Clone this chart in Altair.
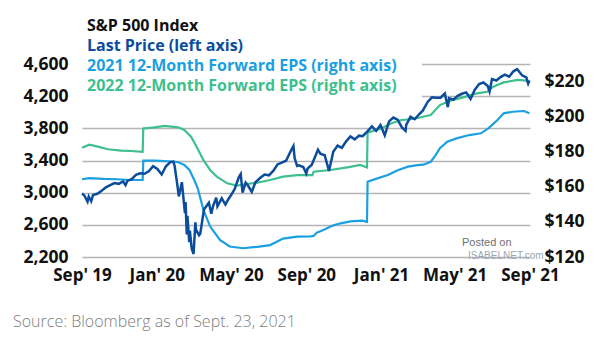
import altair as alt
import pandas as pd

# ---------------- data ----------------
sp_dates = [
    "2019-09-23", "2019-09-27", "2019-10-02", "2019-10-04", "2019-10-08", "2019-10-11", "2019-10-18",
    "2019-10-25", "2019-11-01", "2019-11-08", "2019-11-15", "2019-11-22", "2019-11-29", "2019-12-03",
    "2019-12-06", "2019-12-13", "2019-12-20", "2019-12-27", "2020-01-03", "2020-01-10", "2020-01-17",
    "2020-01-24", "2020-01-31", "2020-02-07", "2020-02-14", "2020-02-19", "2020-02-21", "2020-02-25",
    "2020-02-28", "2020-03-04", "2020-03-06", "2020-03-09", "2020-03-10", "2020-03-12", "2020-03-13",
    "2020-03-16", "2020-03-17", "2020-03-20", "2020-03-23", "2020-03-26", "2020-03-27", "2020-04-01",
    "2020-04-03", "2020-04-09", "2020-04-17", "2020-04-21", "2020-04-24", "2020-04-29", "2020-05-01",
    "2020-05-08", "2020-05-14", "2020-05-19", "2020-05-22", "2020-05-29", "2020-06-05", "2020-06-08",
    "2020-06-11", "2020-06-16", "2020-06-19", "2020-06-26", "2020-07-02", "2020-07-10", "2020-07-17",
    "2020-07-24", "2020-07-31", "2020-08-07", "2020-08-14", "2020-08-21", "2020-08-28", "2020-09-02",
    "2020-09-04", "2020-09-08", "2020-09-11", "2020-09-18", "2020-09-23", "2020-09-25", "2020-10-02",
    "2020-10-09", "2020-10-12", "2020-10-16", "2020-10-23", "2020-10-30", "2020-11-06", "2020-11-13",
    "2020-11-20", "2020-11-27", "2020-12-04", "2020-12-11", "2020-12-18", "2020-12-24", "2020-12-31",
    "2021-01-08", "2021-01-15", "2021-01-22", "2021-01-29", "2021-02-05", "2021-02-12", "2021-02-19",
    "2021-02-26", "2021-03-04", "2021-03-05", "2021-03-12", "2021-03-19", "2021-03-26", "2021-04-01",
    "2021-04-09", "2021-04-16", "2021-04-23", "2021-04-30", "2021-05-07", "2021-05-12", "2021-05-14",
    "2021-05-21", "2021-05-28", "2021-06-04", "2021-06-11", "2021-06-18", "2021-06-25", "2021-07-02",
    "2021-07-09", "2021-07-16", "2021-07-19", "2021-07-23", "2021-07-30", "2021-08-06", "2021-08-13",
    "2021-08-20", "2021-08-27", "2021-09-02", "2021-09-10", "2021-09-17", "2021-09-20", "2021-09-22",
]
sp_values = [
    2992, 2962, 2887, 2952, 2893, 2970, 2986,
    3023, 3067, 3093, 3120, 3110, 3141, 3093,
    3146, 3169, 3221, 3240, 3235, 3265, 3330,
    3295, 3226, 3328, 3380, 3386, 3338, 3128,
    2954, 3130, 2972, 2747, 2882, 2481, 2711,
    2386, 2529, 2305, 2237, 2630, 2541, 2471,
    2489, 2790, 2875, 2737, 2837, 2939, 2831,
    2930, 2852, 2922, 2955, 3044, 3194, 3232,
    3002, 3125, 3098, 3009, 3130, 3185, 3225,
    3216, 3271, 3351, 3373, 3397, 3508, 3580,
    3427, 3332, 3341, 3319, 3237, 3298, 3348,
    3477, 3534, 3484, 3465, 3270, 3510, 3585,
    3558, 3638, 3699, 3663, 3709, 3703, 3756,
    3825, 3768, 3841, 3714, 3887, 3934, 3907,
    3811, 3768, 3842, 3943, 3913, 3975, 4020,
    4129, 4185, 4180, 4181, 4233, 4063, 4174,
    4156, 4204, 4230, 4247, 4166, 4281, 4352,
    4370, 4327, 4258, 4412, 4395, 4437, 4468,
    4442, 4509, 4537, 4459, 4433, 4358, 4396,
]

eps21_dates = [
    "2019-09-23", "2019-10-05", "2019-10-28", "2019-11-20", "2019-12-10", "2019-12-31",
    "2020-01-01", "2020-01-20", "2020-02-05", "2020-02-22", "2020-02-27", "2020-03-08",
    "2020-03-16", "2020-03-24", "2020-03-30", "2020-04-08", "2020-04-19", "2020-05-05",
    "2020-05-21", "2020-06-12", "2020-07-05", "2020-07-26", "2020-08-05", "2020-08-16",
    "2020-09-08", "2020-09-30", "2020-10-05", "2020-10-10", "2020-10-21", "2020-11-05",
    "2020-11-18", "2020-12-04", "2020-12-23", "2020-12-31", "2021-01-01", "2021-01-17",
    "2021-02-03", "2021-02-20", "2021-03-08", "2021-03-23", "2021-04-02", "2021-04-14",
    "2021-04-22", "2021-04-29", "2021-05-11", "2021-05-26", "2021-06-16", "2021-07-05",
    "2021-07-17", "2021-08-01", "2021-08-11", "2021-08-26", "2021-09-13", "2021-09-22",
]
eps21_values = [
    164.3, 164.9, 164.5, 164.3, 163.9, 163.9,
    174.9, 174.9, 174.7, 174.3, 174.0, 172.5,
    169.8, 164.0, 159.0, 147.0, 137.5, 129.7,
    126.0, 125.0, 125.8, 126.8, 128.5, 130.5,
    131.6, 131.8, 132.0, 133.9, 135.4, 137.9,
    139.2, 140.3, 140.7, 140.0, 162.9, 164.8,
    166.7, 169.6, 171.5, 172.4, 172.6, 174.3,
    178.1, 182.0, 185.7, 187.6, 189.5, 190.5,
    193.3, 198.1, 201.9, 202.8, 203.2, 201.9,
]

eps22_dates = [
    "2019-09-23", "2019-10-05", "2019-10-19", "2019-11-04", "2019-11-26", "2019-12-12",
    "2019-12-31", "2020-01-01", "2020-01-19", "2020-02-05", "2020-02-27", "2020-03-08",
    "2020-03-19", "2020-03-28", "2020-04-08", "2020-04-19", "2020-04-30", "2020-05-17",
    "2020-06-02", "2020-06-18", "2020-07-05", "2020-07-26", "2020-08-16", "2020-09-08",
    "2020-10-03", "2020-10-05", "2020-11-01", "2020-11-29", "2020-12-20", "2020-12-31",
    "2021-01-01", "2021-01-23", "2021-02-08", "2021-02-25", "2021-03-12", "2021-03-27",
    "2021-04-14", "2021-04-29", "2021-05-16", "2021-06-06", "2021-06-29", "2021-07-15",
    "2021-07-25", "2021-08-11", "2021-09-03", "2021-09-17", "2021-09-22",
]
eps22_values = [
    182.3, 184.0, 182.9, 181.4, 180.6, 180.4,
    180.0, 193.3, 193.9, 194.7, 193.9, 192.4,
    188.6, 182.9, 175.3, 169.6, 165.8, 162.0,
    160.7, 161.6, 162.3, 163.9, 165.8, 166.7,
    166.7, 168.6, 169.6, 171.1, 172.5, 171.0,
    190.9, 193.3, 196.1, 198.1, 198.5, 199.5,
    200.9, 206.6, 209.1, 211.0, 213.3, 214.2,
    217.1, 219.5, 220.9, 220.5, 219.0,
]

left_ticks = [2200, 2600, 3000, 3400, 3800, 4200, 4600]
right_ticks = [120, 140, 160, 180, 200, 220]
x_tick_dates = ["2019-09-23", "2020-01-23", "2020-05-23", "2020-09-23",
                "2021-01-23", "2021-05-23", "2021-09-23"]
x_domain_dates = ["2019-09-23", "2021-09-23"]

series_names = ["2021 12-Month Forward EPS", "2022 12-Month Forward EPS"]

# ---------------- styling ----------------
FONT = "Open Sans"
C_SP = "#0b4d9c"
C_21 = "#1a9fe0"
C_22 = "#3dbf8e"


def ms(d):
    return int(pd.Timestamp(d, tz="UTC").value // 10**6)


sp_df = pd.DataFrame({"date": sp_dates, "value": sp_values})
eps_df = pd.concat([
    pd.DataFrame({"date": eps21_dates, "value": eps21_values, "series": series_names[0]}),
    pd.DataFrame({"date": eps22_dates, "value": eps22_values, "series": series_names[1]}),
])

x_enc = alt.X(
    "date:T",
    scale=alt.Scale(type="utc", domain=[ms(d) for d in x_domain_dates]),
    axis=alt.Axis(
        values=[ms(d) for d in x_tick_dates],
        labelExpr="utcFormat(datum.value, \"%b' %y\")",
        title=None, grid=False, domain=False, ticks=False,
        labelFont=FONT, labelFontSize=17, labelFontWeight="bold", labelColor="#111111",
        labelPadding=10, labelFlush=False, labelOverlap=False, labelBound=False,
    ),
)

one = pd.DataFrame({"a": [0]})

bg = alt.Chart(one).mark_rect(color="white").encode(
    x=alt.value(0), x2=alt.value(340), y=alt.value(-8), y2=alt.value(38)
)

eps = alt.Chart(eps_df).mark_line(strokeWidth=2.2).encode(
    x=x_enc,
    y=alt.Y(
        "value:Q",
        scale=alt.Scale(domain=[120, 230], nice=False, zero=False),
        axis=alt.Axis(
            orient="right", values=right_ticks, labelExpr="'$' + datum.value",
            title=None, grid=False, domain=False, ticks=False,
            labelFont=FONT, labelFontSize=17.5, labelFontWeight="bold", labelColor="#111111",
            labelPadding=14,
        ),
    ),
    color=alt.Color("series:N", scale=alt.Scale(domain=series_names, range=[C_21, C_22]), legend=None),
)

sp = alt.Chart(sp_df).mark_line(strokeWidth=2.5, color=C_SP).encode(
    x=x_enc,
    y=alt.Y(
        "value:Q",
        scale=alt.Scale(domain=[2200, 4600], nice=False, zero=False),
        axis=alt.Axis(
            orient="left", values=left_ticks, format=",.0f",
            title=None, grid=True, gridColor="#b4b4b4", gridWidth=1.5,
            domain=False, ticks=False,
            labelFont=FONT, labelFontSize=17.5, labelFontWeight="bold", labelColor="#111111",
            labelPadding=14,
        ),
    ),
)


def label(text, x, y, color, size=16, weight=700, font=FONT, align="left"):
    return alt.Chart(pd.DataFrame({"t": [text]})).mark_text(
        align=align, baseline="middle", font=font, fontSize=size, fontWeight=weight, color=color
    ).encode(x=alt.value(x), y=alt.value(y), text="t:N")


texts = [
    label("S&P 500 Index", 5, -38, "#111111"),
    label("Last Price (left axis)", 5, -18, C_SP),
    label("2021 12-Month Forward EPS (right axis)", 5, 2, C_21),
    label("2022 12-Month Forward EPS (right axis)", 5, 22, C_22),
    label("Source: Bloomberg as of Sept. 23, 2021", -69, 258, "#7d7d7d", size=16, weight=300),
    label("Posted on", 380, 179, "#6f6f6f", size=11, weight=400, font="Liberation Sans"),
    label("ISABELNET.com", 386, 192, "#9aa6b2", size=10, weight=400, font="Liberation Sans"),
]

chart = alt.layer(bg, eps, sp, *texts).resolve_scale(
    y="independent", color="independent"
).properties(
    width=448, height=193,
    padding={"left": 82, "top": 64, "right": 75, "bottom": 84},
    autosize=alt.AutoSizeParams(type="none"),
    background="white",
).configure_view(stroke=None)

chart.save("out.html", embed_options={"renderer": "svg", "actions": False})
